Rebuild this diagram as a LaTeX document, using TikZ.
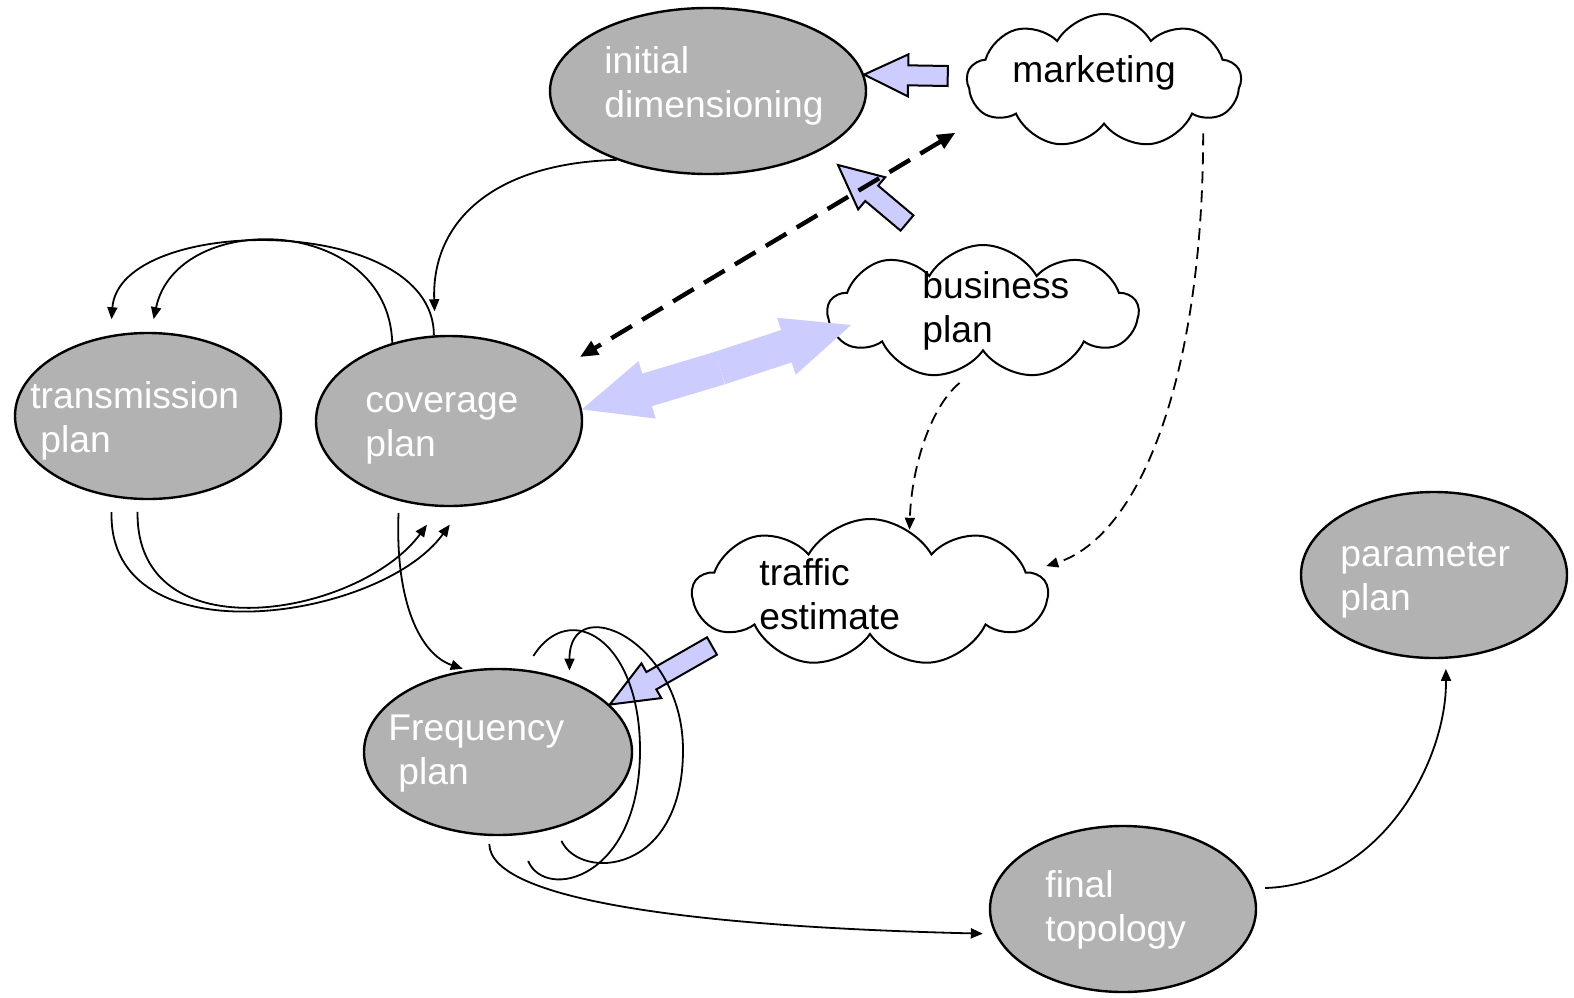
\documentclass[tikz,border=0pt]{standalone}
\usepackage{fontspec}
\setmainfont{Liberation Sans}
\usetikzlibrary{shapes.geometric,shapes.symbols,arrows.meta,calc}
\definecolor{ovalgray}{RGB}{178,178,178}
\definecolor{lavender}{RGB}{204,204,255}
\tikzset{
  oval/.style={ellipse, draw, line width=1.2pt, fill=ovalgray, inner sep=0pt},
  idea/.style={cloud, cloud puffs=9, cloud puff arc=120, cloud ignores aspect, draw, line width=1pt, fill=white, inner sep=0pt},
  ovaltext/.style={text=white, align=left, inner sep=0pt, anchor=base west, font=\fontsize{18.6}{22}\selectfont},
  cloudtext/.style={ovaltext, text=black},
  flow/.style={line width=0.9pt, ->, >={Triangle[length=6pt,width=5pt]}},
  hint/.style={flow, dash pattern=on 6pt off 3.5pt},
  link/.style={line width=2.2pt, dash pattern=on 12pt off 6pt, <->, >={Triangle[length=9pt,width=7.5pt]}},
  blockar/.style={fill=lavender, draw, line width=1pt, line join=miter},
  bigblockar/.style={fill=lavender}
}
% fat arrow: [style]{tail}{tip}{shaft half}{head half}{head length}
\newcommand{\blockarrow}[6][blockar]{
  \coordinate (ba-s) at (#2);
  \coordinate (ba-t) at (#3);
  \coordinate (ba-h) at ($(ba-t)!#6!(ba-s)$);
  \path[#1] ($(ba-s)!#4!90:(ba-t)$) -- ($(ba-h)!#4!-90:(ba-s)$) -- ($(ba-h)!#5!-90:(ba-s)$) -- (ba-t)
    -- ($(ba-h)!#5!90:(ba-s)$) -- ($(ba-h)!#4!90:(ba-s)$) -- ($(ba-s)!#4!-90:(ba-t)$) -- cycle;
}
\begin{document}
\begin{tikzpicture}[x=0.5pt, y=-0.5pt]
\useasboundingbox (0,0) rectangle (1574,997);
% plans
\node[oval, minimum width=158pt, minimum height=83pt] (init) at (708,91) {};
\node[oval, minimum width=133pt, minimum height=83pt] (trans) at (148,416) {};
\node[oval, minimum width=133pt, minimum height=85pt] (cov) at (449,421) {};
\node[oval, minimum width=134pt, minimum height=83pt] (freq) at (498,752) {};
\node[oval, minimum width=133pt, minimum height=83pt] (final) at (1123,909) {};
\node[oval, minimum width=133pt, minimum height=83pt] (param) at (1434,575) {};
% inputs
\node[idea, minimum width=137pt, minimum height=67pt] (marketing) at (1104,81) {};
\node[idea, minimum width=155pt, minimum height=67pt] (business) at (983,312) {};
\node[idea, minimum width=177pt, minimum height=74pt] (traffic) at (870,593) {};
% texts, anchored at the last line
\node[ovaltext] (init-t) at (604,117) {initial\\dimensioning};
\node[ovaltext] (trans-t) at (30,452) {transmission\\\hspace*{5pt}plan};
\node[ovaltext] (cov-t) at (365,456) {coverage\\plan};
\node[ovaltext] (freq-t) at (388,784) {Frequency\\\hspace*{5pt}plan};
\node[ovaltext] (final-t) at (1045,941) {final\\topology};
\node[ovaltext] (param-t) at (1340,610) {parameter\\plan};
\node[cloudtext] (marketing-t) at (1012,82) {marketing};
\node[cloudtext] (business-t) at (922,342) {business\\plan};
\node[cloudtext] (traffic-t) at (759,629) {traffic\\estimate};
% fat arrows
\coordinate (fb-tail) at (907,223);
\coordinate (fb-tip) at (838,165);
\coordinate (te-tail) at (712,646);
\coordinate (bp-mid) at (720,368);
\coordinate (bp-tip) at (851,325);
\blockarrow{$(marketing.west)+(-18,-5)$}{init.6}{5pt}{10.5pt}{22pt}
\blockarrow{fb-tail}{fb-tip}{5pt}{10.5pt}{22pt}
\blockarrow{te-tail}{freq.23}{5pt}{10pt}{24pt}
\blockarrow[bigblockar]{bp-mid}{cov.5}{8.5pt}{15pt}{34pt}
\blockarrow[bigblockar]{bp-mid}{bp-tip}{8.5pt}{15pt}{34pt}
% connectors
\draw[flow, shorten >=12pt] (init.217) .. controls +(-120,3) and +(-4,-116) .. (cov.99);
\draw[flow, shorten >=6.5pt] (cov.126) .. controls +(-4,-129) and +(26,-123) .. (trans.88);
\draw[flow, shorten >=8pt] (cov.100) .. controls +(0,-123) and +(9,-121) .. (trans.115);
\draw[flow, shorten <=7.5pt, shorten >=11pt] (trans.246) .. controls +(-4,164) and +(-82,114) .. (cov.279);
\draw[flow, shorten <=6pt, shorten >=11pt] (trans.263) .. controls +(-2,156) and +(-80,109) .. (cov.264);
\draw[flow, shorten <=6pt, shorten >=2pt] (cov.238) .. controls +(-4,100) and +(-47,-16) .. (freq.111);
\coordinate (fq-out) at (683,750);
\coordinate (fq-in) at (640,750);
\draw[flow, shorten <=7pt, shorten >=5pt] (freq.307) .. controls +(25,53) and +(0,125) .. (fq-out) .. controls +(0,-110) and +(0,-91) .. (freq.45);
\draw[line width=0.9pt, shorten <=14pt, shorten >=8pt] (freq.283) .. controls +(28,66) and +(0,130) .. (fq-in) .. controls +(0,-110) and +(45,-71) .. (freq.72);
\draw[flow, shorten <=4pt, shorten >=6pt] (freq.264) .. controls +(1,65) and +(-295,-7) .. (final.191);
\draw[flow, shorten <=6pt, shorten >=5pt] (final.9) .. controls +(128,-4) and +(1,102) .. (param.278);
\draw[hint] ($(business.245)+(5,10)$) .. controls +(-30,25) and +(2,-61) .. (traffic.58);
\draw[hint] ($(marketing.336)+(13,14)$) .. controls +(0,240) and +(95,-30) .. ($(traffic.8)+(20,-5)$);
\draw[link, shorten <=17pt, shorten >=13pt] (marketing.196) -- (cov.25);
\end{tikzpicture}
\end{document}
